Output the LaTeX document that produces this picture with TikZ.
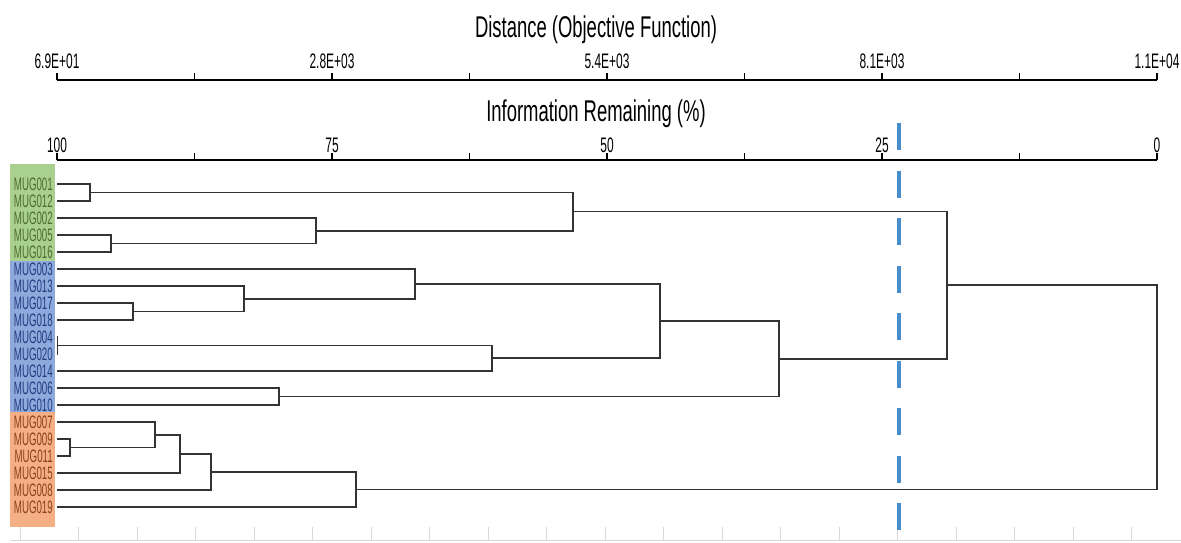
\documentclass[tikz,border=0pt]{standalone}
\usepackage{fontspec}
\newfontfamily\titlefont{Liberation Sans}[FakeStretch=0.615]
\newfontfamily\tickfont{Liberation Sans}[FakeStretch=0.57]
\newfontfamily\leaffont{Liberation Sans}[FakeStretch=0.54]
\usepackage{tikz}
\usetikzlibrary{calc}

\definecolor{bandgreen}{RGB}{169,208,142}
\definecolor{bandblue}{RGB}{142,169,219}
\definecolor{bandorange}{RGB}{244,176,132}
\definecolor{txtgreen}{RGB}{75,110,45}
\definecolor{txtblue}{RGB}{35,60,130}
\definecolor{txtorange}{RGB}{140,65,25}
\definecolor{cutblue}{RGB}{72,142,204}

\begin{document}
\begin{tikzpicture}[
  x=1pt, y=-1pt,
  every node/.style={inner sep=0pt},
  leaf/.style={anchor=east, font=\leaffont\fontsize{18}{18}\selectfont},
  ticklab/.style={anchor=base, font=\tickfont\fontsize{21}{21}\selectfont},
  axtitle/.style={anchor=base, font=\titlefont\fontsize{30}{30}\selectfont},
  axisline/.style={black, line width=2.6pt},
  tickmark/.style={black, line width=1.4pt},
  branch/.style={black!80, line width=1.6pt},
  cutline/.style={cutblue, line width=4pt, dash pattern=on 27pt off 20.5pt},
  gridtick/.style={black!15, line width=0.8pt},
]
\useasboundingbox (0,0) rectangle (1181,542);

% Axis titles
\node[axtitle] (disttitle) at (596,37) {Distance (Objective Function)};
\node[axtitle] (infotitle) at (596,121.5) {Information Remaining (\%)};

% Distance axis
\draw[axisline] (57,80) -- (1157,80);
\foreach \k in {0,...,8} {
  \draw[tickmark] ({57+137.5*\k},80) -- ++(0,-7);
}
\foreach \lab [count=\k from 0] in {6.9E+01,2.8E+03,5.4E+03,8.1E+03,1.1E+04} {
  \node[ticklab] (d\k) at ({57+275*\k},68) {\lab};
}

% Information remaining axis
\draw[axisline] (57,160) -- (1157,160);
\foreach \k in {0,...,8} {
  \draw[tickmark] ({57+137.5*\k},160) -- ++(0,-7);
}
\foreach \lab [count=\k from 0] in {100,75,50,25,0} {
  \node[ticklab] (r\k) at ({57+275*\k},152) {\lab};
}

% Group bands behind the labels
\fill[bandgreen]  (10,164)   rectangle (55,260.5);
\fill[bandblue]   (10,260.5) rectangle (55,412);
\fill[bandorange] (10,412)   rectangle (55,527);

% Leaves
\foreach \lab/\tc [count=\i from 0] in {
  MUG001/txtgreen, MUG012/txtgreen, MUG002/txtgreen, MUG005/txtgreen, MUG016/txtgreen,
  MUG003/txtblue, MUG013/txtblue, MUG017/txtblue, MUG018/txtblue, MUG004/txtblue,
  MUG020/txtblue, MUG014/txtblue, MUG006/txtblue, MUG010/txtblue,
  MUG007/txtorange, MUG009/txtorange, MUG011/txtorange, MUG015/txtorange,
  MUG008/txtorange, MUG019/txtorange} {
  \coordinate (L\i) at (57,{184+17*\i});
  \node[leaf, text=\tc] (\lab) at (53,{184+17*\i}) {\lab};
}

% Merges: name / distance x / children
\foreach \m/\mx/\ca/\cb in {
  a1/90/L0/L1, a2/111/L3/L4, a3/316/L2/a2, a4/573/a1/a3,
  b1/133/L7/L8, b2/244/L6/b1, b3/415/L5/b2, b4/57.5/L9/L10,
  b5/492/b4/L11, b6/660/b3/b5, b7/279/L12/L13, b8/779/b6/b7,
  c1/947/a4/b8,
  o1/70/L15/L16, o2/155/L14/o1, o3/180/o2/L17, o4/211/o3/L18, o5/356/o4/L19,
  root/1157/c1/o5} {
  \coordinate (mid) at ($(\ca)!0.5!(\cb)$);
  \coordinate (\m) at (\mx,0 |- mid);
  \draw[branch] (\ca) -| (\m) |- (\cb);
}

% Faint bottom scale
\draw[gridtick] (10,540.5) -- (1181,540.5);
\foreach \k in {0,...,19} {
  \draw[gridtick] ({20+58.5*\k},527) -- ++(0,14);
}

% Cut level
\draw[cutline] (899,123) -- (899,530);
\end{tikzpicture}
\end{document}
